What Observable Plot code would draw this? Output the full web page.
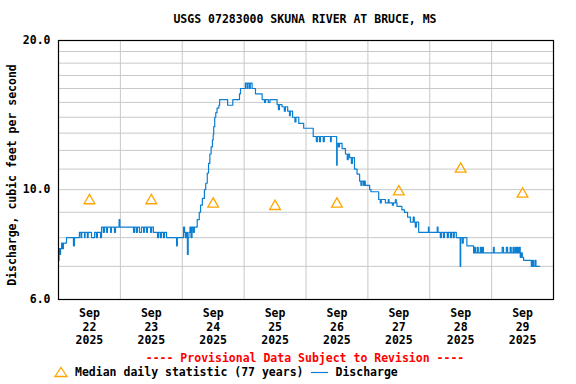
<!DOCTYPE html>
<html>
<head>
<meta charset="utf-8">
<script src="https://cdn.jsdelivr.net/npm/d3@7"></script>
<script src="https://cdn.jsdelivr.net/npm/@observablehq/plot@0.6"></script>
<style>
  html, body { margin: 0; padding: 0; background: white; }
  #wrap { position: relative; width: 576px; height: 384px; font-family: "DejaVu Sans Mono", monospace; font-weight: bold; font-size: 11.5px; color: black; }
  .abs { position: absolute; white-space: pre; line-height: 14px; }
</style>
</head>
<body>
<div id="wrap"></div>
<script>
// ---- data ----
const titleText = "USGS 07283000 SKUNA RIVER AT BRUCE, MS";
const yLabelText = "Discharge, cubic feet per second";
const provisionalText = "---- Provisional Data Subject to Revision ----";
const medianLegend = "Median daily statistic (77 years)";
const dischargeLegend = "Discharge";

// day labels (ticks at noon of each day)
const dayNumbers = [22, 23, 24, 25, 26, 27, 28, 29];
const dayLabels = ["Sep\n22\n2025", "Sep\n23\n2025", "Sep\n24\n2025", "Sep\n25\n2025",
                   "Sep\n26\n2025", "Sep\n27\n2025", "Sep\n28\n2025", "Sep\n29\n2025"];
// median daily statistic for each day
const medianCfs = [9.5, 9.5, 9.35, 9.25, 9.35, 9.9, 11.0, 9.8];

// y axis
const yTicks = [6, 10, 20];
const yTickLabels = ["6.0", "10.0", "20.0"];
const yGrid = [6, 7, 8, 9, 10, 11, 12, 13, 14, 15, 16, 17, 18, 19, 20];

// discharge readings: [hours since Sep 22 00:00, cfs]
const dischargeReadings = [
  [0, 7.2], [0.2, 7.6], [0.6, 7.4], [0.8, 7.6], [1.2, 7.8], [1.6, 7.6], [1.9, 7.8],
  [3.1, 8.0], [5.8, 7.7], [6.2, 8.0], [8.1, 8.2], [8.7, 8.0], [9.0, 8.2], [10.1, 8.0],
  [10.3, 8.2], [11.2, 8.0], [11.5, 8.2], [12.8, 8.0], [14.0, 8.2], [14.7, 8.0], [15.1, 8.2],
  [16.3, 8.0], [16.7, 8.4], [17.4, 8.2], [17.8, 8.4], [18.6, 8.2], [19.0, 8.4], [20.2, 8.2],
  [20.5, 8.4], [21.7, 8.2], [22.1, 8.4], [23.5, 8.7], [23.8, 8.4],
  [29.1, 8.2], [29.5, 8.4], [30.2, 8.2], [30.6, 8.4], [31.4, 8.2], [32.2, 8.4], [33.0, 8.2],
  [33.3, 8.4], [34.1, 8.2], [34.5, 8.4], [35.7, 8.2], [36.1, 8.4], [36.8, 8.2], [38.4, 8.0],
  [38.8, 8.2], [39.5, 8.0], [39.9, 8.2], [40.7, 8.0], [41.1, 8.2], [41.9, 8.0], [45.8, 7.7],
  [46.1, 8.0], [48.5, 8.4], [48.9, 8.2], [49.2, 8.0], [49.6, 8.2], [50.0, 7.4], [50.3, 8.0],
  [50.6, 8.2], [51.0, 8.4], [51.4, 8.0], [51.8, 8.4], [52.3, 8.2], [52.7, 8.4],
  [53.8, 8.7], [54.6, 9.0], [55.1, 9.3], [55.8, 9.6], [56.6, 10.0], [57.1, 10.3], [57.7, 10.8],
  [58.2, 11.3], [58.7, 11.8], [59.2, 12.2], [59.7, 12.6], [60.0, 12.9], [60.2, 13.4],
  [60.6, 14.0], [61.0, 14.3], [61.5, 14.6], [62.2, 14.8], [62.5, 15.2], [65.6, 14.8],
  [67.6, 15.2], [70.2, 15.6], [70.6, 16.0], [72.5, 16.4], [73.1, 16.0], [73.5, 16.4],
  [74.1, 16.0], [74.4, 16.4], [75.1, 16.0], [76.4, 15.6], [79.0, 15.2], [79.9, 15.0],
  [80.3, 15.2], [81.4, 15.0], [82.0, 15.2], [84.8, 14.85], [85.3, 14.5], [85.7, 14.85],
  [86.7, 14.7], [87.6, 14.4], [88.0, 14.7], [88.9, 14.4], [89.6, 14.1], [89.9, 14.4],
  [90.8, 14.0], [91.7, 13.7], [92.1, 14.0], [93.2, 13.6], [95.1, 13.3], [98.8, 12.8],
  [100.0, 12.5], [100.4, 12.8], [101.2, 12.5], [101.6, 12.8], [102.7, 12.5], [103.1, 12.8],
  [105.5, 12.5], [105.8, 12.8], [107.9, 11.2], [108.1, 12.4], [108.6, 12.2], [109.0, 12.4],
  [110.0, 12.1], [111.3, 11.8], [112.0, 11.5], [112.4, 11.8], [112.9, 11.6], [113.6, 11.3],
  [114.0, 11.6], [114.8, 11.0], [115.8, 10.75], [116.8, 10.4], [117.3, 10.2], [117.7, 10.4],
  [118.3, 10.2], [118.6, 10.4], [119.0, 10.2], [120.7, 10.0], [121.2, 9.9], [124.2, 9.55],
  [124.8, 9.4], [125.2, 9.55], [126.8, 9.4], [127.9, 9.55], [128.2, 9.4], [129.5, 9.3],
  [129.9, 9.4], [130.7, 9.55], [131.0, 9.4], [131.3, 9.25], [133.2, 9.1], [134.2, 9.0],
  [135.4, 8.8], [136.5, 8.6], [137.6, 8.8], [138.0, 8.6], [138.4, 8.4], [138.8, 8.6],
  [139.7, 8.2], [143.5, 8.4], [143.7, 8.2], [146.9, 8.4], [147.2, 8.2], [148.1, 8.0],
  [148.5, 8.2], [149.3, 8.0], [149.7, 8.2], [150.8, 8.0], [151.2, 8.2], [152.0, 8.0],
  [152.4, 8.2], [153.1, 8.0], [153.5, 8.2], [154.3, 8.0], [155.8, 7.0], [156.0, 8.0],
  [156.6, 7.8], [157.0, 8.0], [158.4, 7.7], [161.0, 7.45], [161.3, 7.65], [161.7, 7.45],
  [162.4, 7.65], [162.8, 7.45], [163.6, 7.65], [164.0, 7.45], [164.4, 7.65], [164.8, 7.45],
  [168.7, 7.65], [169.0, 7.45], [172.1, 7.65], [172.6, 7.45], [173.7, 7.65], [174.2, 7.45],
  [175.2, 7.65], [175.6, 7.45], [176.3, 7.65], [176.7, 7.45], [177.2, 7.65], [177.6, 7.45],
  [178.0, 7.65], [178.3, 7.45], [178.7, 7.65], [179.1, 7.3], [179.5, 7.45], [179.9, 7.3],
  [180.4, 7.2], [183.4, 7.0], [183.8, 7.2], [184.2, 7.0], [184.8, 7.2], [185.2, 7.0],
  [186.6, 7.0]
];

// ---- build ----
const t0 = Date.UTC(2025, 8, 22);
const HOUR = 3600e3;
const discharge = dischargeReadings.map(([h, v]) => ({date: new Date(t0 + h * HOUR), cfs: v}));
const noonOf = d => new Date(Date.UTC(2025, 8, d, 12));
const medians = dayNumbers.map((d, i) => ({date: noonOf(d), cfs: medianCfs[i]}));
const midnights = dayNumbers.slice(1).map(d => new Date(Date.UTC(2025, 8, d)));
const noonTicks = dayNumbers.map(noonOf);

const lineColor = "#0a7fd2";
const medianColor = "#ffa500";

const chart = Plot.plot({
  width: 576,
  height: 384,
  marginTop: 40,
  marginBottom: 85,
  marginLeft: 58,
  marginRight: 23,
  style: {fontFamily: "DejaVu Sans Mono, monospace", fontSize: "11.5px", fontWeight: "bold", background: "white", color: "black", overflow: "visible"},
  x: {type: "utc", domain: [new Date(t0), new Date(Date.UTC(2025, 8, 30))]},
  y: {type: "log", domain: [6, 20]},
  marks: [
    Plot.gridX(midnights, {stroke: "#c8c8c8", strokeOpacity: 1, strokeWidth: 1}),
    Plot.gridY(yGrid, {stroke: "#c8c8c8", strokeOpacity: 1, strokeWidth: 1}),
    Plot.axisX(noonTicks, {
      tickSize: 0, tickPadding: 8, lineHeight: 1.17, lineAnchor: "top",
      tickFormat: (d, i) => dayLabels[dayNumbers.indexOf(d.getUTCDate())],
      label: null, fill: "black"
    }),
    Plot.axisY(yTicks, {
      tickSize: 0, tickPadding: 8,
      tickFormat: d => yTickLabels[yTicks.indexOf(d)],
      label: null, fill: "black"
    }),
    Plot.line(discharge, {x: "date", y: "cfs", curve: "step-after", stroke: lineColor, strokeWidth: 1.2}),
    Plot.dot(medians, {x: "date", y: "cfs", symbol: "triangle", r: 4, stroke: medianColor, strokeWidth: 1.3, fill: "none"}),
    Plot.frame({stroke: "black", strokeWidth: 1.2}),
    Plot.text([yLabelText], {frameAnchor: "left", textAnchor: "middle", lineAnchor: "middle", dx: -46, dy: 5, rotate: -90, text: d => d, fill: "black", fontSize: 11.5})
  ]
});

const wrap = document.getElementById("wrap");
wrap.appendChild(chart);
chart.style.position = "absolute";
chart.style.left = "0px";
chart.style.top = "0px";

function addText(txt, left, top, width, align, color) {
  const el = document.createElement("div");
  el.className = "abs";
  el.textContent = txt;
  el.style.left = left + "px";
  el.style.top = top + "px";
  if (width) el.style.width = width + "px";
  el.style.textAlign = align || "left";
  el.style.color = color || "black";
  wrap.appendChild(el);
  return el;
}
addText(titleText, 34, 12, 542, "center");
addText(provisionalText, 34, 351, 542, "center", "#ff0000");

// legend
const leg = document.createElement("div");
leg.className = "abs";
leg.style.left = "53px";
leg.style.top = "365px";
leg.style.display = "flex";
leg.style.alignItems = "center";
leg.innerHTML =
  `<svg width="16" height="12" style="margin-right:6px"><polygon points="8,1.5 14,10.5 2,10.5" fill="none" stroke="${medianColor}" stroke-width="1.3"/></svg>` +
  `<span>${medianLegend}</span>` +
  `<svg width="18" height="12" style="margin:0 6px 0 8px"><line x1="0" x2="17" y1="6.5" y2="6.5" stroke="${lineColor}" stroke-width="1.2"/></svg>` +
  `<span>${dischargeLegend}</span>`;
wrap.appendChild(leg);
</script>
</body>
</html>
